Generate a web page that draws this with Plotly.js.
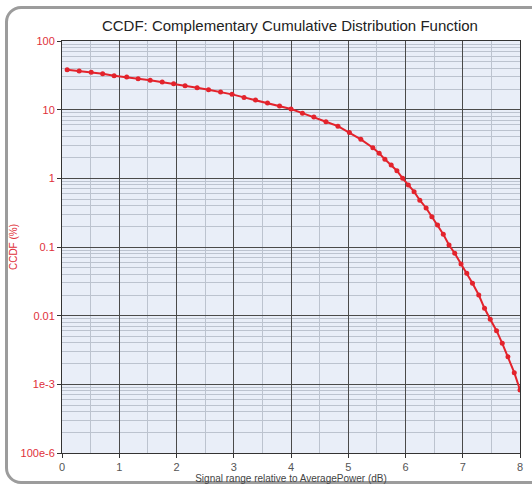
<!DOCTYPE html>
<html>
<head>
<meta charset="utf-8">
<script src="https://cdn.plot.ly/plotly-3.0.1.min.js"></script>
<style>
  html, body { margin: 0; padding: 0; background: #ffffff; overflow: hidden; }
  #frame { position: absolute; left: 5px; top: 6px; width: 560px; height: 478px;
           border: 3px solid #9c9c9c; border-radius: 16px; box-sizing: border-box; }
  #chart { position: absolute; left: 0; top: 0; width: 532px; height: 492px; }
</style>
</head>
<body>
<div id="frame"></div>
<div id="chart"></div>
<script>
// Signal level relative to average power (dB)
const signalDb = [0.09, 0.30, 0.51, 0.71, 0.91, 1.13, 1.33, 1.54, 1.75, 1.95,
                  2.15, 2.36, 2.56, 2.77, 2.97, 3.18, 3.38, 3.59, 3.80, 4.00,
                  4.20, 4.40, 4.61, 4.82, 5.02, 5.22, 5.43, 5.54, 5.64, 5.75,
                  5.85, 5.95, 6.05, 6.15, 6.25, 6.36, 6.46, 6.56, 6.66, 6.76,
                  6.86, 6.97, 7.07, 7.17, 7.28, 7.38, 7.48, 7.59, 7.69, 7.79,
                  7.90, 8.00];
// CCDF (%)
const ccdfPct = [38.2, 36.6, 35.0, 33.4, 31.2, 29.9, 28.2, 26.8, 25.3, 23.9,
                 22.3, 20.9, 19.5, 18.1, 16.7, 15.1, 13.8, 12.5, 11.3, 10.2,
                 8.9, 7.8, 6.68, 5.75, 4.65, 3.7, 2.79, 2.32, 1.89, 1.56,
                 1.29, 1.00, 0.80, 0.64, 0.48, 0.37, 0.276, 0.209, 0.153, 0.107,
                 0.081, 0.0566, 0.0414, 0.0296, 0.0200, 0.0128, 0.00885, 0.00604, 0.00396, 0.00253,
                 0.00148, 0.00083];
const yTickVals = [100, 10, 1, 0.1, 0.01, 0.001, 0.0001];
const yTickText = ["100", "10", "1", "0.1", "0.01", "1e-3", "100e-6"];
const xTickVals = [0, 1, 2, 3, 4, 5, 6, 7, 8];

const trace = {
  x: signalDb, y: ccdfPct, type: 'scatter', mode: 'lines+markers',
  line: { color: '#e3232c', width: 2 },
  marker: { color: '#e3232c', size: 5 },
  hoverinfo: 'x+y'
};

const layout = {
  width: 532, height: 492,
  margin: { l: 62, r: 12, t: 41, b: 39 },
  paper_bgcolor: 'rgba(0,0,0,0)',
  plot_bgcolor: '#e9eef8',
  showlegend: false,
  title: { text: 'CCDF: Complementary Cumulative Distribution Function',
           font: { family: 'Liberation Sans, Arial, sans-serif', size: 15, color: '#222' },
           x: 0.545, xanchor: 'center', y: 0.948, yanchor: 'middle' },
  xaxis: {
    range: [0, 8], tickmode: 'array', tickvals: xTickVals,
    showgrid: true, gridcolor: '#4a4a4a', gridwidth: 1,
    minor: { dtick: 0.5, showgrid: true, gridcolor: '#bcc3cf', gridwidth: 1, ticks: '' },
    showline: true, linecolor: '#333', linewidth: 1, mirror: true,
    ticks: 'outside', ticklen: 4, tickcolor: '#333',
    tickfont: { family: 'Liberation Sans, Arial, sans-serif', size: 11, color: '#555' },
    zeroline: false,
    title: { text: 'Signal range relative to AveragePower (dB)', standoff: 2,
             font: { family: 'Liberation Sans, Arial, sans-serif', size: 10, color: '#444' } }
  },
  yaxis: {
    type: 'log', range: [-4, 2], tickmode: 'array', tickvals: yTickVals, ticktext: yTickText,
    showgrid: true, gridcolor: '#4a4a4a', gridwidth: 1,
    minor: { dtick: 'D1', showgrid: true, gridcolor: '#bcc3cf', gridwidth: 1, ticks: '' },
    showline: true, linecolor: '#333', linewidth: 1, mirror: true,
    ticks: 'outside', ticklen: 4, tickcolor: '#333',
    tickfont: { family: 'Liberation Sans, Arial, sans-serif', size: 11, color: '#e0303a' },
    zeroline: false,
    title: { text: 'CCDF (%)', standoff: 1,
             font: { family: 'Liberation Sans, Arial, sans-serif', size: 10, color: '#e0303a' } }
  }
};

Plotly.newPlot('chart', [trace], layout, { displayModeBar: false, staticPlot: false });
</script>
</body>
</html>
